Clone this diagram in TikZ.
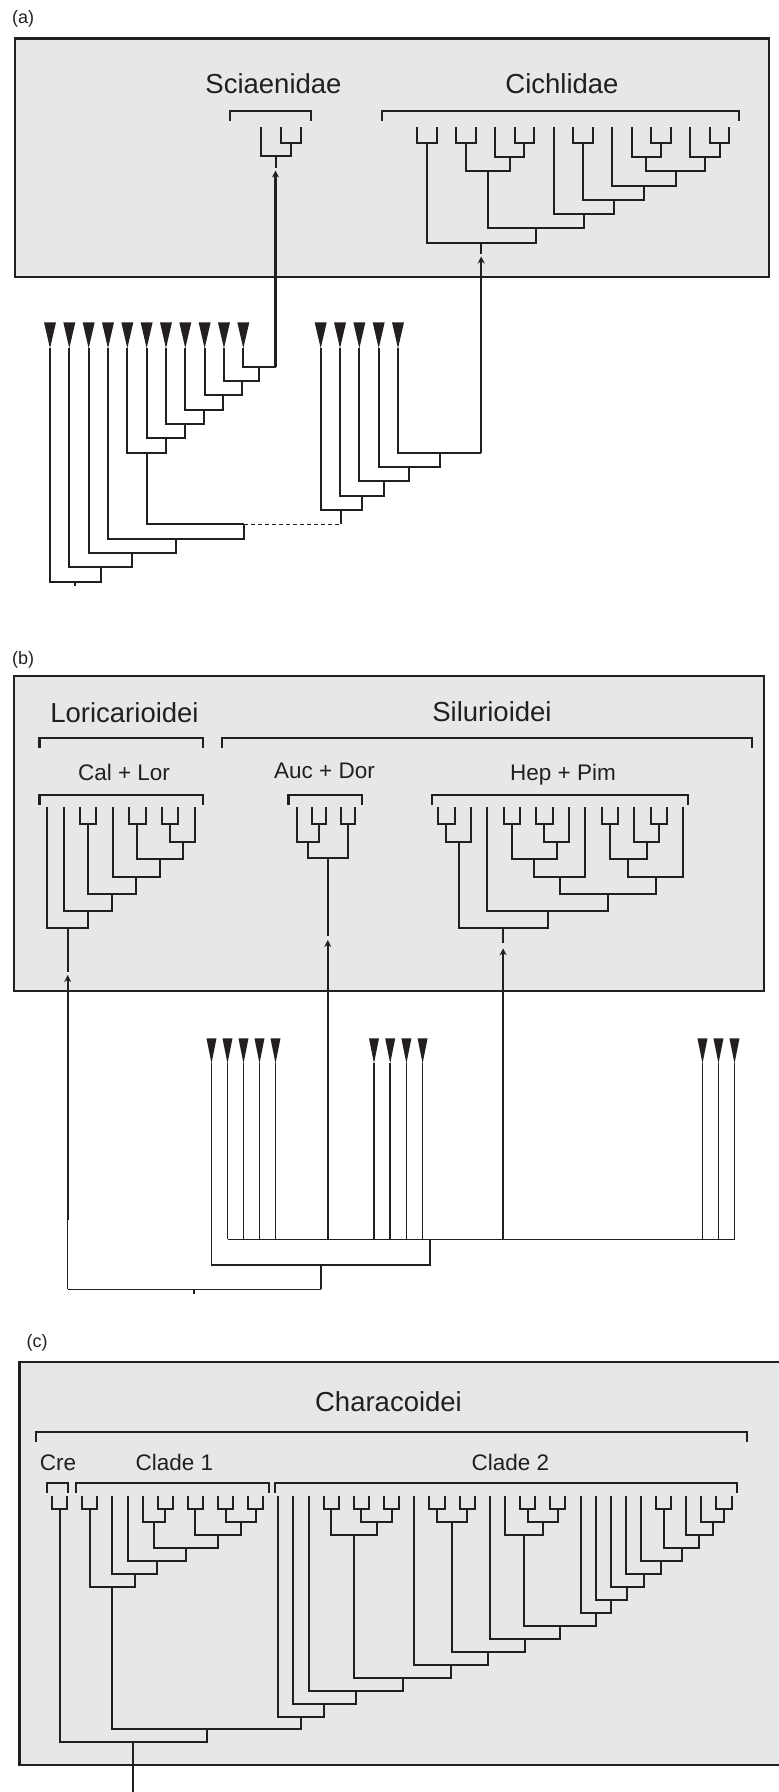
\documentclass[tikz,border=0pt]{standalone}
\usepackage{fontspec}
\setmainfont{Liberation Sans}
\usetikzlibrary{calc,arrows.meta}
\definecolor{ink}{HTML}{231F20}
\definecolor{boxfill}{HTML}{E6E7E8}
\tikzset{
  tree/.style={draw=ink, line width=2pt},
  ltree/.style={draw=ink, line width=1.6pt},
  brack/.style={draw=ink, line width=2.2pt},
  panel/.style={draw=ink, line width=2.4pt, fill=boxfill},
  arrowline/.style={draw=ink, line width=2.3pt, -{Stealth[length=7pt,width=7pt]}},
  dashline/.style={draw=ink, line width=1.6pt, dash pattern=on 4pt off 3pt},
  grouptext/.style={text=ink, font=\fontsize{27.5}{30}\selectfont, anchor=base, inner sep=0pt},
  subtext/.style={text=ink, font=\fontsize{22.5}{25}\selectfont, anchor=base, inner sep=0pt},
  paneltext/.style={text=ink, font=\fontsize{18}{20}\selectfont, anchor=base west, inner sep=0pt},
}
% clade join: name, child A, child B, level y
\newcommand\cj[4]{%
  \coordinate (#1-m) at ($(#2)!0.5!(#3)$);
  \coordinate (#1) at (#1-m |- 0,#4);
  \draw[tree] (#2) |- (#1) -| (#3);
}
% terminal triangle: name, x, top y, tip y, half width
\newcommand\tri[5]{%
  \coordinate (#1) at (#2,#4);
  \fill[ink] ({#2-#5},#3) -- ({#2+#5},#3) -- (#1) -- cycle;
}
% bracket
\newcommand\brk[4]{%
  \draw[brack] (#1,#4) -- (#1,#3) -- (#2,#3) -- (#2,#4);
}
\begin{document}
\begin{tikzpicture}[x=1pt,y=-1pt]
\useasboundingbox (0,0) rectangle (779,1792);
\clip (0,0) rectangle (779,1792);

% ================= panel (a) =================
\node[paneltext] (la) at (12,23.5) {(a)};
\draw[panel] (15,38.5) rectangle (769,277);
\node[grouptext] (tsci) at (273.5,93.3) {Sciaenidae};
\node[grouptext] (tcic) at (562,93.3) {Cichlidae};
\brk{230}{311}{111}{121}
\brk{382}{739}{111}{121}

% Sciaenidae
\coordinate (sL0) at (260.5,126.5);
\coordinate (sL1) at (280.5,126.5);
\coordinate (sL2) at (300.5,126.5);
\cj{s1}{sL1}{sL2}{142.7}
\cj{s2}{sL0}{s1}{155.7}
\coordinate (s2b) at (s2 |- 0,168.3);
\draw[tree] (s2) -- (s2b);
\coordinate (sTip) at (s2 |- 0,170.5);

% Cichlidae
\foreach \i in {0,...,16} {\coordinate (cL\i) at ({417+19.53*\i},126.5);}
\cj{c1}{cL0}{cL1}{142.7}
\cj{c2}{cL2}{cL3}{142.7}
\cj{c3}{cL5}{cL6}{142.7}
\cj{c4}{cL4}{c3}{157}
\cj{c5}{c2}{c4}{171.3}
\cj{c6}{cL8}{cL9}{142.7}
\cj{c7}{cL12}{cL13}{142.7}
\cj{c8}{cL11}{c7}{157}
\cj{c9}{cL15}{cL16}{142.7}
\cj{c10}{cL14}{c9}{157}
\cj{c11}{c8}{c10}{171.3}
\cj{c12}{cL10}{c11}{185.6}
\cj{c13}{c6}{c12}{199.9}
\cj{c14}{cL7}{c13}{214.1}
\cj{c15}{c5}{c14}{228.4}
\cj{c16}{c1}{c15}{242.7}
\coordinate (c16b) at (c16 |- 0,253.5);
\draw[tree] (c16) -- (c16b);
\coordinate (cTip) at (c16 |- 0,256.5);

% lower trees (a)
\foreach \i in {0,...,10} {\tri{aL\i}{50+19.33*\i}{322.3}{348.3}{6}}
\foreach \i in {0,...,4} {\tri{bL\i}{320.7+19.33*\i}{322.3}{348.3}{6}}
\coordinate (aS) at (sTip |- 0,366.7);
\cj{n1}{aL10}{aS}{366.7}
\cj{n2}{aL9}{n1}{381}
\cj{n3}{aL8}{n2}{395.3}
\cj{n4}{aL7}{n3}{409.7}
\cj{n5}{aL6}{n4}{424}
\cj{n6}{aL5}{n5}{438.3}
\cj{n7}{aL4}{n6}{452.7}
\coordinate (jn) at (244.3,524.3);
\draw[tree] (n7) |- (jn);
\cj{n9}{aL3}{jn}{538.7}
\cj{n10}{aL2}{n9}{553}
\cj{n11}{aL1}{n10}{567.3}
\cj{n12}{aL0}{n11}{581.7}
\coordinate (n12b) at (n12 |- 0,585.5);
\draw[tree] (n12) -- (n12b);

\coordinate (aC) at (cTip |- 0,452.7);
\cj{m1}{bL4}{aC}{452.7}
\cj{m2}{bL3}{m1}{467}
\cj{m3}{bL2}{m2}{481.3}
\cj{m4}{bL1}{m3}{495.7}
\cj{m5}{bL0}{m4}{510}
\coordinate (m5b) at (m5 |- jn);
\draw[tree] (m5) -- (m5b);
\draw[dashline] (jn) -- (m5b);

\draw[arrowline] (aS) -- (sTip);
\draw[arrowline] (aC) -- (cTip);

% ================= panel (b) =================
\node[paneltext] (lb) at (12,664) {(b)};
\draw[panel] (14,676) rectangle (764,991);
\node[grouptext] (tlor) at (124.5,722.5) {Loricarioidei};
\node[grouptext] (tsil) at (492,721.5) {Silurioidei};
\brk{39.5}{203}{738.3}{748.3}
\brk{222}{752}{738.3}{748.3}
\node[subtext] (tcal) at (124,780) {Cal + Lor};
\node[subtext] (tauc) at (324.5,778.5) {Auc + Dor};
\node[subtext] (thep) at (563,780) {Hep + Pim};
\brk{39.5}{203}{795}{805}
\brk{288.5}{362}{795}{805}
\brk{432}{688}{795}{805}

% Cal + Lor
\foreach \i in {0,...,9} {\coordinate (kL\i) at ({47.3+16.39*\i},806.7);}
\cj{l1}{kL2}{kL3}{824.2}
\cj{l2}{kL5}{kL6}{824.2}
\cj{l3}{kL7}{kL8}{824.2}
\cj{l4}{l3}{kL9}{842.2}
\cj{l5}{l2}{l4}{858.8}
\cj{l6}{kL4}{l5}{876.5}
\cj{l7}{l1}{l6}{893.5}
\cj{l8}{kL1}{l7}{910.8}
\cj{l9}{kL0}{l8}{928.3}
\coordinate (l9b) at (l9 |- 0,971.7);
\draw[tree] (l9) -- (l9b);
\coordinate (lTip) at (l9 |- 0,975);

% Auc + Dor
\foreach \i in {0,...,4} {\coordinate (dL\i) at ({297+14.5*\i},806.7);}
\cj{d1}{dL1}{dL2}{824.2}
\cj{d2}{dL0}{d1}{842.2}
\cj{d3}{dL3}{dL4}{824.2}
\cj{d4}{d2}{d3}{857.5}
\coordinate (d4b) at (d4 |- 0,936);
\draw[tree] (d4) -- (d4b);
\coordinate (dTip) at (d4 |- 0,940);

% Hep + Pim
\foreach \i in {0,...,15} {\coordinate (hL\i) at ({438.3+16.33*\i},806.7);}
\cj{h1}{hL0}{hL1}{824.2}
\cj{h2}{h1}{hL2}{842.2}
\cj{h3}{hL4}{hL5}{824.2}
\cj{h4}{hL6}{hL7}{824.2}
\cj{h5}{h4}{hL8}{842.2}
\cj{h6}{h3}{h5}{858.8}
\cj{h7}{h6}{hL9}{876.5}
\cj{h8}{hL10}{hL11}{824.2}
\cj{h9}{hL13}{hL14}{824.2}
\cj{h10}{hL12}{h9}{842.2}
\cj{h11}{h8}{h10}{858.8}
\cj{h12}{h11}{hL15}{876.5}
\cj{h13}{h7}{h12}{893.5}
\cj{h14}{hL3}{h13}{910.8}
\cj{h15}{h2}{h14}{928.3}
\coordinate (h15b) at (h15 |- 0,943.3);
\draw[tree] (h15) -- (h15b);
\coordinate (hTip) at (h15 |- 0,948.3);

% lower tree (b)
\foreach \i in {0,...,4} {\tri{gA\i}{211.5+16*\i}{1038.3}{1063.3}{5}}
\foreach \i in {0,...,3} {\tri{gB\i}{374+16.2*\i}{1038.3}{1063.3}{5}}
\foreach \i in {0,...,2} {\tri{gC\i}{702.5+16*\i}{1038.3}{1063.3}{5}}
\coordinate (q) at (430,1239.3);
\foreach \n in {gA1,gA2,gA3,gA4,gB0,gB1,gB2,gB3,gC0,gC1,gC2} {
  \draw[ltree] (\n) -- (\n |- q);
}
\draw[ltree] (gA1 |- q) -- (gC2 |- q);
\coordinate (q2) at (q |- 0,1265);
\draw[ltree] (gA0) |- (q2) -- (q);
\coordinate (rm) at ($(gA0 |- q2)!0.5!(q2)$);
\coordinate (r2) at (rm |- 0,1289.3);
\draw[ltree] (rm) -- (r2);
\coordinate (clB) at (lTip |- r2);
\draw[ltree] (clB) -- (r2);
\coordinate (stm) at ($(clB)!0.5!(r2)$);
\coordinate (stb) at (stm |- 0,1293.5);
\draw[ltree] (stm) -- (stb);
% arrows (b)
\coordinate (clM) at (lTip |- 0,1220);
\draw[ltree] (clB) -- (clM);
\draw[arrowline] (clM) -- (lTip);
\coordinate (adB) at (dTip |- q);
\coordinate (adM) at (dTip |- 0,1138);
\draw[ltree] (adB) -- (adM);
\draw[arrowline] (adM) -- (dTip);
\coordinate (hpB) at (hTip |- q);
\coordinate (hpM) at (hTip |- 0,1221.7);
\draw[ltree] (hpB) -- (hpM);
\draw[arrowline] (hpM) -- (hTip);

% ================= panel (c) =================
\node[paneltext] (lc) at (26.5,1347) {(c)};
\draw[panel] (19.5,1361.7) rectangle (800,1765);
\node[grouptext] (tcha) at (388.5,1411.5) {Characoidei};
\brk{36}{747}{1431.7}{1441.7}
\node[subtext] (tcre) at (58,1470) {Cre};
\node[subtext] (tcl1) at (174.5,1470) {Clade 1};
\node[subtext] (tcl2) at (510.5,1470) {Clade 2};
\brk{46.7}{68.3}{1483.3}{1493.3}
\brk{76}{269.3}{1483.3}{1493.3}
\brk{275}{736.7}{1483.3}{1493.3}

% Cre
\coordinate (rL0) at (52.3,1495.7);
\coordinate (rL1) at (66.7,1495.7);
\cj{r1}{rL0}{rL1}{1509.3}

% Clade 1
\foreach \i in {0,...,12} {\coordinate (eL\i) at ({82.3+15.08*\i},1495.7);}
\cj{a1}{eL0}{eL1}{1509.3}
\cj{a2}{eL5}{eL6}{1509.3}
\cj{a3}{eL4}{a2}{1522.25}
\cj{a4}{eL7}{eL8}{1509.3}
\cj{a5}{eL9}{eL10}{1509.3}
\cj{a6}{eL11}{eL12}{1509.3}
\cj{a7}{a5}{a6}{1522.25}
\cj{a8}{a4}{a7}{1535.2}
\cj{a9}{a3}{a8}{1548.15}
\cj{a10}{eL3}{a9}{1561.1}
\cj{a11}{eL2}{a10}{1574.05}
\cj{a12}{a1}{a11}{1587.0}

% Clade 2
\foreach \i in {0,...,30} {\coordinate (fL\i) at ({278.3+15.11*\i},1495.7);}
\cj{bA}{fL3}{fL4}{1509.3}
\cj{bB}{fL5}{fL6}{1509.3}
\cj{bC}{fL7}{fL8}{1509.3}
\cj{bBC}{bB}{bC}{1522.25}
\cj{bABC}{bA}{bBC}{1535.2}
\cj{bD}{fL10}{fL11}{1509.3}
\cj{bE}{fL12}{fL13}{1509.3}
\cj{bDE}{bD}{bE}{1522.25}
\cj{bF}{fL16}{fL17}{1509.3}
\cj{bG}{fL18}{fL19}{1509.3}
\cj{bFG}{bF}{bG}{1522.25}
\cj{bX}{fL15}{bFG}{1535.2}
\cj{bH}{fL25}{fL26}{1509.3}
\cj{bI}{fL29}{fL30}{1509.3}
\cj{bt28}{fL28}{bI}{1522.25}
\cj{bt27}{fL27}{bt28}{1535.2}
\cj{bHt}{bH}{bt27}{1548.15}
\cj{bt24}{fL24}{bHt}{1561.1}
\cj{bt23}{fL23}{bt24}{1574.05}
\cj{bt22}{fL22}{bt23}{1587.0}
\cj{bt21}{fL21}{bt22}{1599.95}
\cj{bt20}{fL20}{bt21}{1612.9}
\cj{bk10}{bX}{bt20}{1625.85}
\cj{bk11}{fL14}{bk10}{1638.8}
\cj{bk12}{bDE}{bk11}{1651.75}
\cj{bk13}{fL9}{bk12}{1664.7}
\cj{bk14}{bABC}{bk13}{1677.65}
\cj{bk15}{fL2}{bk14}{1690.6}
\cj{bk16}{fL1}{bk15}{1703.55}
\cj{bk17}{fL0}{bk16}{1716.5}
\cj{cc1}{a12}{bk17}{1729.45}
\cj{cc2}{r1}{cc1}{1742.4}
\coordinate (cc2b) at (cc2 |- 0,1800);
\draw[tree] (cc2) -- (cc2b);
\end{tikzpicture}
\end{document}
